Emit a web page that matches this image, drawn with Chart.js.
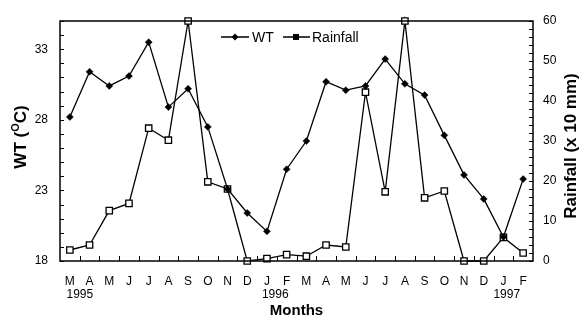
<!DOCTYPE html>
<html>
<head>
<meta charset="utf-8">
<script src="https://cdn.jsdelivr.net/npm/chart.js@4/dist/chart.umd.min.js"></script>
<style>
html,body{margin:0;padding:0;background:#fff;}
#wrap{width:579px;height:316px;}
</style>
</head>
<body>
<div id="wrap"><canvas id="c" width="579" height="316"></canvas></div>
<script>
const months = ['M','A','M','J','J','A','S','O','N','D','J','F','M','A','M','J','J','A','S','O','N','D','J','F'];
const yearLabels = {0:'1995', 10:'1996', 22:'1997'};
const wt = [28.2,31.4,30.4,31.1,33.5,28.9,30.2,27.5,23.1,21.4,20.1,24.5,26.5,30.7,30.1,30.4,32.3,30.55,29.75,26.9,24.1,22.4,19.7,23.8];
const rainfall = [2.75,4,12.6,14.4,33.2,30.2,60,19.8,18,0,0.6,1.6,1.2,4,3.5,42.2,17.3,60,15.8,17.5,0,0,5.9,2];
const wtTicks = [18,23,28,33];
const rainTicks = [0,10,20,30,40,50,60];

const FONT = "'Liberation Sans', Arial, Helvetica, sans-serif";
const yearPad = {0:'      ', 10:'     ', 22:'  '};
const labels = months.map((m,i) => yearLabels[i] ? [m, yearPad[i] + yearLabels[i]] : m);

const decor = {
  id:'decor',
  afterDraw(chart){
    const {ctx, chartArea:a, scales} = chart;
    ctx.save();
    ctx.strokeStyle = '#000';
    ctx.lineWidth = 1.5;
    ctx.strokeRect(a.left, a.top, a.right - a.left, a.bottom - a.top);
    ctx.lineWidth = 1;
    ctx.beginPath();
    for (let v = scales.y.min; v <= scales.y.max; v += 1) {
      const p = Math.round(scales.y.getPixelForValue(v)) + 0.5;
      ctx.moveTo(a.left, p); ctx.lineTo(a.left + 4, p);
    }
    for (let v = scales.y1.min; v <= scales.y1.max; v += 2) {
      const p = Math.round(scales.y1.getPixelForValue(v)) + 0.5;
      ctx.moveTo(a.right, p); ctx.lineTo(a.right - 4, p);
    }
    const xs = scales.x;
    for (let i = 0; i < months.length - 1; i++) {
      const p = Math.round((xs.getPixelForValue(i) + xs.getPixelForValue(i + 1)) / 2) + 0.5;
      ctx.moveTo(p, a.bottom); ctx.lineTo(p, a.bottom - 5);
    }
    ctx.stroke();
    ctx.restore();

    // right title
    ctx.save();
    ctx.fillStyle = '#000';
    ctx.font = 'bold 17px ' + FONT;
    ctx.textAlign = 'center';
    ctx.textBaseline = 'middle';
    ctx.translate(570, 146);
    ctx.rotate(-Math.PI / 2);
    ctx.fillText('Rainfall (x 10 mm)', 0, 1);
    ctx.restore();

    // left title with superscript
    ctx.save();
    ctx.fillStyle = '#000';
    ctx.textBaseline = 'middle';
    ctx.textAlign = 'left';
    ctx.translate(20, 137);
    ctx.rotate(-Math.PI / 2);
    const big = 'bold 17px ' + FONT, small = 'bold 11px ' + FONT;
    ctx.font = big; const w1 = ctx.measureText('WT (').width, w3 = ctx.measureText('C)').width;
    ctx.font = small; const w2 = ctx.measureText('O').width;
    let x0 = -(w1 + w2 + w3) / 2;
    ctx.font = big; ctx.fillText('WT (', x0, 1);
    ctx.font = small; ctx.fillText('O', x0 + w1, -4);
    ctx.font = big; ctx.fillText('C)', x0 + w1 + w2, 1);
    ctx.restore();

    // legend
    ctx.save();
    const ly = 37;
    ctx.strokeStyle = '#000';
    ctx.fillStyle = '#000';
    ctx.lineWidth = 1.3;
    ctx.beginPath();
    ctx.moveTo(221, ly); ctx.lineTo(249, ly);
    ctx.moveTo(283, ly); ctx.lineTo(310, ly);
    ctx.stroke();
    ctx.beginPath();
    ctx.moveTo(235, ly - 3.5); ctx.lineTo(238.5, ly); ctx.lineTo(235, ly + 3.5); ctx.lineTo(231.5, ly);
    ctx.closePath(); ctx.fill();
    ctx.fillRect(293, ly - 3, 6, 6);
    ctx.font = '14px ' + FONT;
    ctx.textAlign = 'left';
    ctx.textBaseline = 'middle';
    ctx.fillText('WT', 252, ly + 1);
    ctx.fillText('Rainfall', 312, ly + 1);
    ctx.restore();
  }
};

new Chart(document.getElementById('c'), {
  type: 'line',
  data: {
    labels: labels,
    datasets: [
      {label:'WT', data: wt, yAxisID:'y', borderColor:'#000', borderWidth:1.3, pointStyle:'rectRot', pointRadius:3.5, pointBackgroundColor:'#000', pointBorderColor:'#000', pointBorderWidth:0.5, tension:0, clip:false},
      {label:'Rainfall', data: rainfall, yAxisID:'y1', borderColor:'#000', borderWidth:1.3, pointStyle:'rect', pointRadius:4.5, pointBackgroundColor:'#fff', pointBorderColor:'#000', pointBorderWidth:1.3, tension:0, clip:false}
    ]
  },
  options: {
    responsive:false,
    animation:false,
    devicePixelRatio:1,
    layout:{padding:{top:21, left:0, right:0, bottom:0}},
    plugins:{legend:{display:false}, tooltip:{enabled:false}},
    scales:{
      x:{
        type:'category', offset:true,
        grid:{display:false, offset:true, drawTicks:false},
        border:{display:false},
        ticks:{color:'#000', font:{family:FONT, size:12, lineHeight:1.1}, padding:14, maxRotation:0, autoSkip:false},
        title:{display:true, text:'Months', color:'#000', font:{family:FONT, size:15, weight:'bold'}, padding:{top:0, bottom:-4}},
        afterFit(s){ s.height = 55; }
      },
      y:{
        position:'left', min:18, max:35,
        grid:{display:false, drawTicks:false},
        border:{display:false},
        ticks:{color:'#000', font:{family:FONT, size:12}, padding:12},
        afterBuildTicks(s){ s.ticks = wtTicks.map(v => ({value:v})); },
        afterFit(s){ s.width = 60; }
      },
      y1:{
        position:'right', min:0, max:60,
        grid:{display:false, drawTicks:false},
        border:{display:false},
        ticks:{color:'#000', font:{family:FONT, size:12}, padding:10},
        afterBuildTicks(s){ s.ticks = rainTicks.map(v => ({value:v})); },
        afterFit(s){ s.width = 46; }
      }
    }
  },
  plugins:[decor]
});
</script>
</body>
</html>
